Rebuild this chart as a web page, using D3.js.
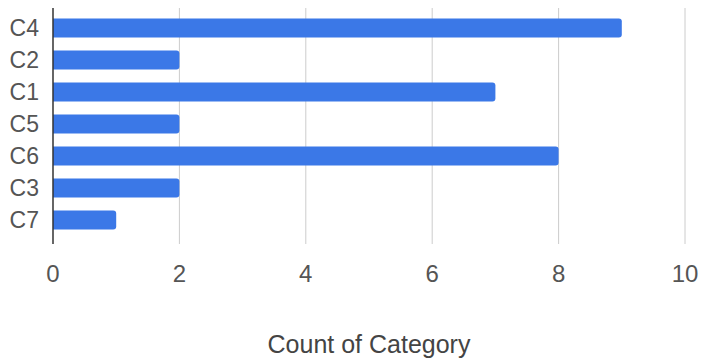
<!DOCTYPE html>
<html>
<head>
<meta charset="utf-8">
<script src="https://cdn.jsdelivr.net/npm/d3@7"></script>
<style>
  body { margin: 0; background: #fff; }
  svg { display: block; font-family: "Liberation Sans", Arial, sans-serif; }
</style>
</head>
<body>
<div id="grafico"></div>
<script>
// Dados do gráfico
const categorias = ["C4", "C2", "C1", "C5", "C6", "C3", "C7"];
const contagens = [9, 2, 7, 2, 8, 2, 1];
const ticksX = [0, 2, 4, 6, 8, 10];
const tituloX = "Count of Category";

const width = 702, height = 361;
const margin = { top: 12, right: 17, bottom: 125, left: 53 };

const svg = d3.select("#grafico")
  .append("svg")
  .attr("width", width)
  .attr("height", height);

const x = d3.scaleLinear()
  .domain([0, 10])
  .range([margin.left, width - margin.right]);

const y = d3.scaleBand()
  .domain(categorias)
  .range([margin.top, height - margin.bottom])
  .paddingInner(0.4)
  .paddingOuter(0.2);

// linhas de grade
svg.append("g")
  .selectAll("line")
  .data(ticksX.filter(d => d > 0))
  .join("line")
  .attr("x1", d => x(d))
  .attr("x2", d => x(d))
  .attr("y1", 8)
  .attr("y2", 244)
  .attr("stroke", "#cccccc")
  .attr("stroke-width", 1);

// barras (cantos direitos arredondados)
const r = 3;
svg.append("g")
  .selectAll("path")
  .data(categorias.map((c, i) => ({ cat: c, valor: contagens[i] })))
  .join("path")
  .attr("fill", "#3b78e7")
  .attr("d", d => {
    const x0 = x(0), x1 = x(d.valor), y0 = y(d.cat), h = y.bandwidth();
    return `M${x0},${y0}H${x1 - r}Q${x1},${y0} ${x1},${y0 + r}V${y0 + h - r}Q${x1},${y0 + h} ${x1 - r},${y0 + h}H${x0}Z`;
  });

// eixo vertical
svg.append("line")
  .attr("x1", x(0)).attr("x2", x(0))
  .attr("y1", 8).attr("y2", 244)
  .attr("stroke", "#333")
  .attr("stroke-width", 1.5);

// rótulos das categorias
svg.append("g")
  .selectAll("text")
  .data(categorias)
  .join("text")
  .attr("x", 39)
  .attr("y", d => y(d) + y.bandwidth() / 2)
  .attr("dy", "0.36em")
  .attr("text-anchor", "end")
  .attr("fill", "#555")
  .attr("font-size", 23)
  .text(d => d);

// rótulos do eixo X
svg.append("g")
  .selectAll("text")
  .data(ticksX)
  .join("text")
  .attr("x", d => x(d))
  .attr("y", 282)
  .attr("text-anchor", "middle")
  .attr("fill", "#555")
  .attr("font-size", 24)
  .text(d => d);

// título do eixo X
svg.append("text")
  .attr("x", 369)
  .attr("y", 353)
  .attr("text-anchor", "middle")
  .attr("fill", "#444")
  .attr("font-size", 25)
  .text(tituloX);
</script>
</body>
</html>
